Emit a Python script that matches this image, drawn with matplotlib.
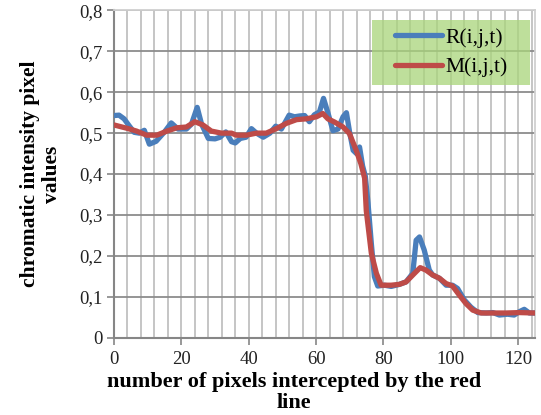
import numpy as np
import matplotlib
matplotlib.use("Agg")
from matplotlib import pyplot as plt
from matplotlib.patches import Rectangle
from matplotlib.ticker import MultipleLocator, FuncFormatter

plt.rcParams.update({
    "font.family": ["Liberation Serif", "DejaVu Serif"],
    "font.size": 11,
})

r_x = [0, 1.5, 3, 4.5, 6, 7.5, 9, 10.5, 12.5, 15, 17, 19, 21.5, 23, 24.7, 26, 28,
       30, 31.5, 33.2, 34.9, 36, 37.5, 39.2, 40.8, 42.3, 44.3, 46.3, 48, 49.7,
       52, 53.6, 55.1, 56.6, 58, 59.5, 61, 62.2, 63.5, 65, 66.5, 68, 69, 70,
       71, 72, 72.9, 73.8, 74.6, 75.4, 76.4, 77.3, 78.3, 80.3, 82.3, 84.7, 86.7,
       88.7, 89.7, 90.7, 92.1, 93.6, 94.6, 96.6, 98.6, 100.5, 102, 104, 106, 108,
       110.5, 112.5, 114.4, 116.8, 118.8, 120.3, 121.8, 123.3, 125]
r_y = [0.543, 0.544, 0.535, 0.518, 0.502, 0.500, 0.507, 0.473, 0.480, 0.503,
       0.525, 0.510, 0.510, 0.522, 0.563, 0.522, 0.487, 0.486, 0.490, 0.503,
       0.479, 0.476, 0.487, 0.490, 0.511, 0.500, 0.490, 0.500, 0.517, 0.510,
       0.544, 0.540, 0.542, 0.543, 0.528, 0.545, 0.552, 0.585, 0.550, 0.506,
       0.510, 0.540, 0.550, 0.500, 0.458, 0.450, 0.466, 0.420, 0.395, 0.330,
       0.230, 0.149, 0.126, 0.128, 0.125, 0.130, 0.136, 0.157, 0.238, 0.246,
       0.214, 0.165, 0.153, 0.145, 0.128, 0.128, 0.120, 0.092, 0.074, 0.061,
       0.060, 0.061, 0.055, 0.057, 0.055, 0.063, 0.069, 0.060, 0.060]

# M(i,j,t) - model values
m_x = [0, 3.8, 6.7, 9.7, 12.7, 15.7, 18.6, 21.5, 24, 26.4, 28.9, 31.9, 34.9,
       36.3, 39.3, 42.3, 45.2, 48.2, 51.2, 54.2, 57.1, 60.1, 62, 63.5, 65.5,
       68, 69.9, 71.9, 73.3, 74.4, 74.9, 76.4, 77.9, 79.3, 82.3, 84.7, 86.7,
       89.2, 90.9, 92.6, 94.6, 96.6, 98.6, 100.5, 102.5, 104.5, 106.5, 109,
       112.5, 116.4, 120.3, 125]
m_y = [0.520, 0.512, 0.505, 0.495, 0.495, 0.505, 0.513, 0.515, 0.528, 0.520,
       0.505, 0.500, 0.500, 0.495, 0.495, 0.500, 0.500, 0.511, 0.524, 0.533,
       0.535, 0.540, 0.548, 0.535, 0.527, 0.515, 0.499, 0.458, 0.425, 0.390,
       0.310, 0.206, 0.157, 0.128, 0.128, 0.130, 0.136, 0.157, 0.171, 0.165,
       0.153, 0.145, 0.132, 0.126, 0.104, 0.083, 0.067, 0.060, 0.060, 0.060,
       0.061, 0.060]

fig = plt.figure(figsize=(5.41, 4.15), dpi=100)
ax = fig.add_axes([0.2107, 0.1867, 0.7783, 0.788])

ax.plot(r_x, r_y, color="#4a7ebb", lw=3.8, solid_joinstyle="round",
        solid_capstyle="round", label="R(i,j,t)", zorder=3)
ax.plot(m_x, m_y, color="#be4b48", lw=3.8, solid_joinstyle="round",
        solid_capstyle="round", label="M(i,j,t)", zorder=4)

ax.set_xlim(0, 125)
ax.set_ylim(0, 0.8)
ax.xaxis.set_major_locator(MultipleLocator(20))
ax.xaxis.set_minor_locator(MultipleLocator(4))
ax.yaxis.set_major_locator(MultipleLocator(0.1))
ax.yaxis.set_major_formatter(FuncFormatter(
    lambda v, p: "0" if abs(v) < 1e-9 else ("%.1f" % v).replace(".", ",")))

ax.grid(which="minor", axis="x", color="#c0c0c0", lw=1.3)
ax.grid(which="major", axis="x", color="#c0c0c0", lw=1.3)
ax.grid(which="major", axis="y", color="#8c8c8c", lw=1.3)
ax.set_axisbelow(True)

for s in ["top", "right"]:
    ax.spines[s].set_color("#d0d0d0")
    ax.spines[s].set_linewidth(1.3)
for s in ["left", "bottom"]:
    ax.spines[s].set_color("#868686")
    ax.spines[s].set_linewidth(1.5)

ax.tick_params(which="major", direction="out", length=5, width=1.2,
               color="#868686", labelsize=13.5, labelcolor="#222222")
ax.tick_params(axis="x", pad=5)
ax.tick_params(which="minor", length=0)

ax.set_xlabel("number of pixels intercepted by the red\nline",
              fontsize=16, fontweight="bold", linespacing=1.1)
ax.xaxis.set_label_coords(0.428, -0.105, transform=ax.transAxes)
ax.xaxis.label.set_va("top")
ax.set_ylabel("chromatic intensity pixel\nvalues",
              fontsize=15.5, fontweight="bold", labelpad=12, linespacing=1.15)

# legend background (semi-transparent green box)
ax.add_patch(Rectangle((0.613, 0.772), 0.375, 0.199, transform=ax.transAxes,
                       facecolor="#a9d57a", alpha=0.75, edgecolor="none",
                       zorder=5))
leg = ax.legend(loc="center", bbox_to_anchor=(0.8005, 0.8715),
                fontsize=15.5, frameon=False, borderpad=0,
                handlelength=2.2, handletextpad=0.15, labelspacing=0.45)
leg.set_zorder(6)

fig.savefig("out.png", dpi=100)
